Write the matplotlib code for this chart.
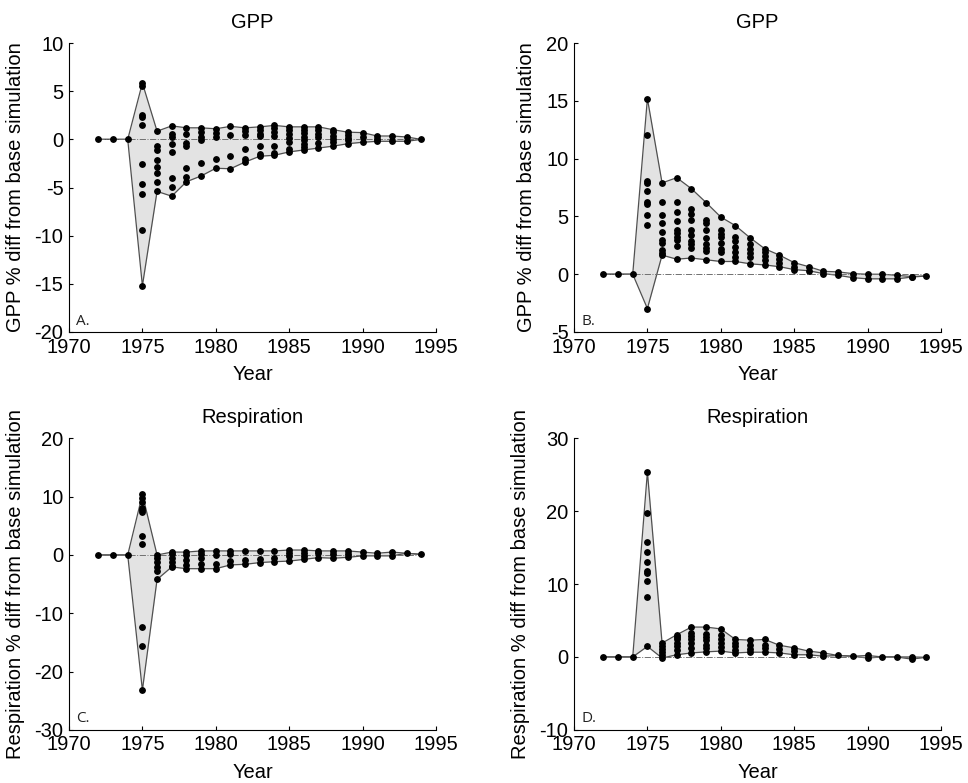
import matplotlib
matplotlib.use("Agg")

import matplotlib.pyplot as plt
import numpy as np

plt.rcParams["font.family"] = ["Liberation Sans", "DejaVu Sans"]
plt.rcParams["axes.unicode_minus"] = False

FONT_SIZE = 14.5

YEARS = [1972, 1973, 1974, 1975, 1976, 1977, 1978, 1979, 1980, 1981, 1982, 1983,
         1984, 1985, 1986, 1987, 1988, 1989, 1990, 1991, 1992, 1993, 1994]

# % difference from base simulation, one list of simulated values per year
GPP_A = [
    [0], [0], [0],
    [5.85, 5.5, 2.5, 2.3, 1.5, -2.6, -4.6, -5.7, -9.4, -15.2],
    [0.85, -0.7, -1.1, -2.1, -2.9, -3.5, -4.4, -5.4],
    [1.4, 0.6, 0.25, -0.5, -1.3, -4.0, -4.9, -5.9],
    [1.2, 0.6, -0.4, -0.7, -3.0, -3.9, -4.4],
    [1.2, 0.8, 0.25, -0.1, -2.5, -3.8],
    [1.1, 0.65, 0.25, -2.0, -3.0],
    [1.35, 0.5, -1.7, -3.05],
    [1.2, 0.9, 0.5, -1.0, -2.0, -2.35],
    [1.3, 0.95, 0.6, 0.35, -0.7, -1.55, -1.75],
    [1.45, 1.2, 0.75, 0.4, -0.7, -1.4, -1.65],
    [1.3, 1.0, 0.6, 0.15, -0.3, -1.0, -1.3],
    [1.3, 0.95, 0.65, 0.25, -0.1, -0.5, -0.8, -1.1],
    [1.3, 1.0, 0.6, 0.25, -0.4, -0.9],
    [1.0, 0.75, 0.4, 0.0, -0.3, -0.7],
    [0.75, 0.5, 0.15, -0.1, -0.45],
    [0.7, 0.25, -0.3],
    [0.35, 0.05, -0.2],
    [0.35, -0.2],
    [0.25, -0.2],
    [0.0],
]

GPP_B = [
    [0], [0], [0],
    [15.2, 12.05, 8.05, 7.85, 7.2, 6.25, 6.05, 5.1, 4.3, -2.97],
    [7.9, 6.25, 5.1, 4.4, 3.65, 3.0, 2.7, 2.1, 1.85, 1.65],
    [8.35, 6.25, 5.4, 4.6, 3.85, 3.55, 3.2, 2.95, 2.4, 1.3],
    [7.4, 5.6, 5.2, 4.65, 3.85, 3.35, 2.9, 2.6, 2.3, 1.4],
    [6.2, 4.7, 4.45, 3.8, 3.1, 2.65, 2.3, 2.0, 1.25],
    [4.95, 3.85, 3.5, 3.2, 2.7, 2.2, 1.95, 1.1],
    [4.2, 3.2, 2.9, 2.35, 1.95, 1.5, 1.1],
    [3.15, 2.6, 2.2, 1.85, 1.45, 0.9],
    [2.2, 1.95, 1.55, 1.2, 0.8],
    [1.65, 1.35, 1.0, 0.65],
    [1.0, 0.65, 0.4],
    [0.65, 0.3],
    [0.25, 0.05],
    [0.2, -0.1],
    [0.05, -0.3],
    [0.0, -0.4],
    [0.0, -0.4],
    [-0.1, -0.4],
    [-0.2, -0.25],
    [-0.15],
]

RESP_C = [
    [0], [0], [0],
    [10.4, 9.7, 9.1, 8.1, 7.7, 7.3, 3.3, 1.95, -12.4, -15.65, -23.2],
    [0.0, -0.6, -1.2, -2.0, -2.75, -4.2],
    [0.5, 0.1, -0.45, -1.2, -1.9, -2.05],
    [0.5, -0.05, -0.85, -1.65, -2.35],
    [0.7, 0.1, -0.6, -1.6, -2.35],
    [0.7, 0.0, -1.6, -2.35],
    [0.7, 0.1, -1.05, -1.7],
    [0.7, -0.9, -1.6],
    [0.7, -0.65, -1.3],
    [0.7, -0.6, -1.15],
    [0.85, 0.4, -0.15, -1.05],
    [0.85, 0.4, -0.15, -0.75],
    [0.7, 0.3, -0.45],
    [0.7, 0.1, -0.55],
    [0.7, 0.1, -0.4],
    [0.5, -0.15],
    [0.3, -0.15],
    [0.5, -0.15],
    [0.3],
    [0.1],
]

RESP_D = [
    [0], [0], [0],
    [25.4, 19.7, 15.8, 14.4, 13.0, 11.8, 11.55, 10.4, 8.25, 1.45],
    [1.9, 1.45, 1.1, 0.65, 0.2, -0.15],
    [3.05, 2.75, 2.4, 1.9, 1.45, 1.0, 0.3],
    [4.1, 3.3, 2.85, 2.4, 1.85, 1.25, 0.55],
    [4.1, 3.2, 2.75, 2.3, 1.7, 1.25, 0.7],
    [3.85, 3.05, 2.5, 1.9, 1.35, 0.8],
    [2.4, 1.9, 1.45, 1.0, 0.55],
    [2.3, 1.7, 1.1, 0.65],
    [2.4, 1.7, 1.25, 0.65],
    [1.6, 1.1, 0.55],
    [1.25, 0.8, 0.3],
    [0.8, 0.3],
    [0.55, 0.1],
    [0.2],
    [0.1],
    [0.2, -0.15],
    [0.0],
    [0.0],
    [0.0, -0.3],
    [-0.05],
]

PANELS = [
    # (values, title, ylabel, ylim, yticks, letter)
    (GPP_A, "GPP", "GPP % diff from base simulation", (-20, 10), [-20, -15, -10, -5, 0, 5, 10], "A."),
    (GPP_B, "GPP", "GPP % diff from base simulation", (-5, 20), [-5, 0, 5, 10, 15, 20], "B."),
    (RESP_C, "Respiration", "Respiration % diff from base simulation", (-30, 20), [-30, -20, -10, 0, 10, 20], "C."),
    (RESP_D, "Respiration", "Respiration % diff from base simulation", (-10, 30), [-10, 0, 10, 20, 30], "D."),
]

# axes positions in figure fractions (left, bottom, width, height)
POSITIONS = [
    (0.0713, 0.576, 0.379, 0.369),
    (0.593, 0.576, 0.379, 0.369),
    (0.0713, 0.068, 0.379, 0.372),
    (0.593, 0.068, 0.379, 0.372),
]


def draw_panel(ax, values, title, ylabel, ylim, yticks, letter):
    upper = [max(v) for v in values]
    lower = [min(v) for v in values]

    ax.fill_between(YEARS, lower, upper, color="#e3e3e3", linewidth=0, zorder=1)
    ax.plot(YEARS, upper, color="#505050", linewidth=0.9, zorder=2)
    ax.plot(YEARS, lower, color="#505050", linewidth=0.9, zorder=2)
    ax.plot(YEARS, np.zeros(len(YEARS)), linestyle="-.", color="#707070", linewidth=0.7, zorder=2)

    for year, vals in zip(YEARS, values):
        ax.plot([year] * len(vals), vals, linestyle="none", marker="o", markersize=3.9,
                color="black", zorder=3)

    ax.set_xlim(1970, 1995)
    ax.set_ylim(*ylim)
    ax.set_xticks([1970, 1975, 1980, 1985, 1990, 1995])
    ax.set_yticks(yticks)
    ax.tick_params(direction="in", length=3, width=0.8, labelsize=FONT_SIZE, pad=4)
    ax.tick_params(axis="x", pad=4)
    ax.spines["top"].set_visible(False)
    ax.spines["right"].set_visible(False)
    ax.set_title(title, fontsize=FONT_SIZE, pad=11)
    ax.set_xlabel("Year", fontsize=FONT_SIZE, labelpad=6)
    ax.set_ylabel(ylabel, fontsize=FONT_SIZE, labelpad=7)
    ax.text(0.02, 0.012, letter, transform=ax.transAxes, ha="left", va="bottom",
            fontsize=11, family=["Open Sans", "DejaVu Sans"], color="#222222")


fig = plt.figure(figsize=(9.68, 7.83), dpi=100)
for pos, panel in zip(POSITIONS, PANELS):
    ax = fig.add_axes(pos)
    draw_panel(ax, *panel)

fig.savefig("out.png", dpi=100, facecolor="white")
